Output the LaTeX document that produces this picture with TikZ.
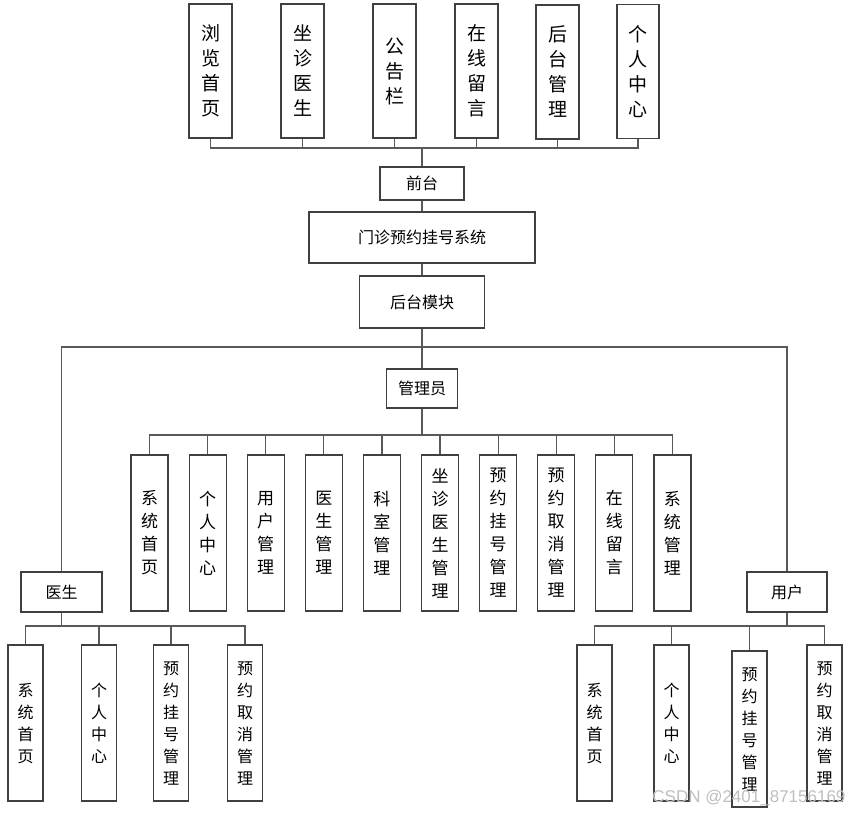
\documentclass[tikz,border=0pt]{standalone}
\usepackage{fontspec}
\setmainfont{Noto Sans CJK SC}
\newfontfamily\wmfont{Liberation Sans}
\begin{document}
\begin{tikzpicture}[x=1pt,y=-1pt,
  box/.style={draw=black!75, line width=1.2pt, fill=white, inner sep=0pt, align=center},
  topbox/.style={box, minimum width=43pt, minimum height=134pt, font=\fontsize{19}{25}\selectfont},
  midbox/.style={box, font=\fontsize{16}{18}\selectfont},
  subbox/.style={box, minimum width=37pt, minimum height=156pt, font=\fontsize{17}{23}\selectfont},
  leafbox/.style={box, minimum width=35pt, minimum height=156pt, font=\fontsize{16}{22}\selectfont},
  conn/.style={draw=black!65, line width=1.2pt}]
\fill[white] (0,0) rectangle (851,815);
\useasboundingbox (0,0) rectangle (851,815);

% front end
\node[topbox] (t1) at (210.5,71) {浏\\览\\首\\页};
\node[topbox] (t2) at (302.5,71) {坐\\诊\\医\\生};
\node[topbox] (t3) at (394.5,71) {公\\告\\栏};
\node[topbox] (t4) at (476.5,71) {在\\线\\留\\言};
\node[topbox] (t5) at (557.5,72) {后\\台\\管\\理};
\node[topbox, minimum width=42pt] (t6) at (638,71.5) {个\\人\\中\\心};

\node[midbox, minimum width=84pt, minimum height=33pt] (qt) at (422,183.5) {前台};
\node[midbox, minimum width=226pt, minimum height=51pt] (sys) at (422,237.5) {门诊预约挂号系统};
\node[midbox, minimum width=125pt, minimum height=52pt] (hm) at (422,302) {后台模块};
\node[midbox, minimum width=71pt, minimum height=39pt] (gly) at (422,388.5) {管理员};

% admin modules
\foreach \name [count=\i] in {{系\\统\\首\\页},{个\\人\\中\\心},{用\\户\\管\\理},{医\\生\\管\\理},{科\\室\\管\\理},
    {坐\\诊\\医\\生\\管\\理},{预\\约\\挂\\号\\管\\理},{预\\约\\取\\消\\管\\理},{在\\线\\留\\言},{系\\统\\管\\理}}
  \node[subbox] (a\i) at ({149.5+58.1*(\i-1)},533) {\name};

% doctor and user
\node[midbox, minimum width=81pt, minimum height=40pt] (ys) at (61.5,592) {医生};
\node[midbox, minimum width=80pt, minimum height=40pt] (yh) at (787,592) {用户};

\node[leafbox] (d1) at (25.5,723) {系\\统\\首\\页};
\node[leafbox] (d2) at (99,723) {个\\人\\中\\心};
\node[leafbox] (d3) at (171,723) {预\\约\\挂\\号\\管\\理};
\node[leafbox] (d4) at (245,723) {预\\约\\取\\消\\管\\理};

\node[leafbox] (u1) at (594.5,723) {系\\统\\首\\页};
\node[leafbox] (u2) at (671.5,723) {个\\人\\中\\心};
\node[leafbox] (u3) at (749.5,729) {预\\约\\挂\\号\\管\\理};
\node[leafbox] (u4) at (824.5,723) {预\\约\\取\\消\\管\\理};

% connectors
\coordinate (tbus) at (422,148);
\foreach \i in {1,...,6}
  \draw[conn] (t\i.south) |- (tbus);
\draw[conn] (tbus) -- (qt.north);
\draw[conn] (qt.south) -- (sys.north);
\draw[conn] (sys.south) -- (hm.north);
\draw[conn] (hm.south) -- (gly.north);
\coordinate (mbus) at (422,347);
\draw[conn] (ys.north) |- (mbus) -| (yh.north);
\coordinate (abus) at (422,435);
\draw[conn] (gly.south) -- (abus);
\foreach \i in {1,...,10}
  \draw[conn] (abus) -| (a\i.north);
\coordinate (dbus) at (61.5,626);
\draw[conn] (ys.south) -- (dbus);
\foreach \i in {1,...,4}
  \draw[conn] (dbus) -| (d\i.north);
\coordinate (ubus) at (787,626);
\draw[conn] (yh.south) -- (ubus);
\foreach \i in {1,...,4}
  \draw[conn] (ubus) -| (u\i.north);

\node[font=\wmfont\fontsize{17}{17}\selectfont, text=black!25, anchor=east] (wm) at (849,798) {CSDN @2401\_87156169};
\end{tikzpicture}
\end{document}
